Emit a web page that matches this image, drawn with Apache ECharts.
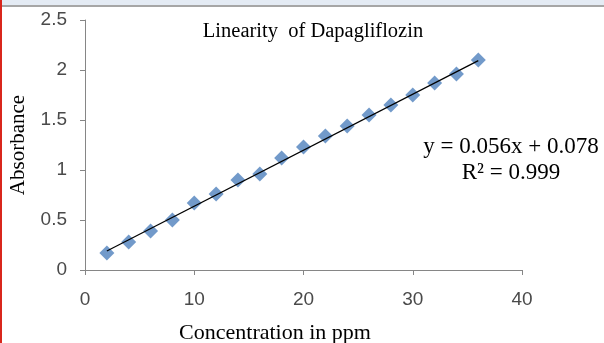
<!DOCTYPE html>
<html>
<head>
<meta charset="utf-8">
<script src="https://cdn.jsdelivr.net/npm/echarts@6/dist/echarts.min.js"></script>
<style>
  html, body { margin: 0; padding: 0; background: #fff; }
  #chart { width: 604px; height: 343px; }
</style>
</head>
<body>
<div id="chart"></div>
<script>
// concentration (ppm) and measured absorbance
const concentration = [2, 4, 6, 8, 10, 12, 14, 16, 18, 20, 22, 24, 26, 28, 30, 32, 34, 36];
const absorbance = [0.17, 0.28, 0.39, 0.50, 0.67, 0.76, 0.90, 0.96, 1.12, 1.23, 1.34, 1.44, 1.55, 1.65, 1.75, 1.87, 1.96, 2.10];
// linear fit shown on the chart
const slope = 0.056;
const intercept = 0.078;
const xTicks = [0, 10, 20, 30, 40];
const yTicks = [0, 0.5, 1, 1.5, 2, 2.5];

const serif = '"Liberation Serif", "DejaVu Serif", serif';
const sans = '"Liberation Sans", Arial, sans-serif';

const points = concentration.map((c, i) => [c, absorbance[i]]);
const xFirst = concentration[0];
const xLast = concentration[concentration.length - 1];
const trend = [[xFirst, slope * xFirst + intercept], [xLast, slope * xLast + intercept]];

const chart = echarts.init(document.getElementById('chart'));
chart.setOption({
    animation: false,
    backgroundColor: '#fff',
    grid: { left: 83, right: 82, top: 20, bottom: 73 },
    xAxis: {
        type: 'value',
        min: xTicks[0],
        max: xTicks[xTicks.length - 1],
        interval: 10,
        axisLine: { lineStyle: { color: '#868686', width: 1 } },
        axisTick: { show: true, length: 5, lineStyle: { color: '#868686' } },
        axisLabel: { margin: 20, fontFamily: sans, fontSize: 19, color: '#4a4a4a' },
        splitLine: { show: false }
    },
    yAxis: {
        type: 'value',
        min: yTicks[0],
        max: yTicks[yTicks.length - 1],
        interval: 0.5,
        name: 'Absorbance',
        nameLocation: 'middle',
        nameRotate: 90,
        nameGap: 56,
        nameTextStyle: { fontFamily: serif, fontSize: 21, color: '#000' },
        axisLine: { show: true, lineStyle: { color: '#868686', width: 1 } },
        axisTick: { show: true, length: 5, lineStyle: { color: '#868686' } },
        axisLabel: { margin: 18, fontFamily: sans, fontSize: 19, color: '#4a4a4a' },
        splitLine: { show: false }
    },
    graphic: [
        { type: 'rect', shape: { x: 0, y: 0, width: 604, height: 5 }, style: { fill: '#e4ebf4' } },
        { type: 'rect', shape: { x: 0, y: 5, width: 604, height: 2 }, style: { fill: '#a6a6a6' } },
        { type: 'rect', shape: { x: 0, y: 0, width: 2, height: 343 }, style: { fill: '#d9261c' } },
        {
            type: 'text', x: 313, y: 32,
            style: { text: 'Linearity  of Dapagliflozin', font: '20.5px ' + serif, fill: '#000', textAlign: 'center', textVerticalAlign: 'middle' }
        },
        {
            type: 'text', x: 511, y: 147,
            style: { text: 'y = 0.056x + 0.078', font: '23px ' + serif, fill: '#000', textAlign: 'center', textVerticalAlign: 'middle' }
        },
        {
            type: 'text', x: 511, y: 173,
            style: { text: 'R² = 0.999', font: '23px ' + serif, fill: '#000', textAlign: 'center', textVerticalAlign: 'middle' }
        },
        {
            type: 'text', x: 275, y: 333,
            style: { text: 'Concentration in ppm', font: '22px ' + serif, fill: '#000', textAlign: 'center', textVerticalAlign: 'middle' }
        }
    ],
    series: [
        {
            name: 'Absorbance',
            type: 'scatter',
            symbol: 'diamond',
            symbolSize: 15,
            itemStyle: { color: '#4f81bd' },
            data: points,
            z: 2
        },
        {
            name: 'Trend',
            type: 'line',
            symbol: 'none',
            lineStyle: { color: '#000', width: 1.2 },
            data: trend,
            z: 3
        }
    ]
});
</script>
</body>
</html>
